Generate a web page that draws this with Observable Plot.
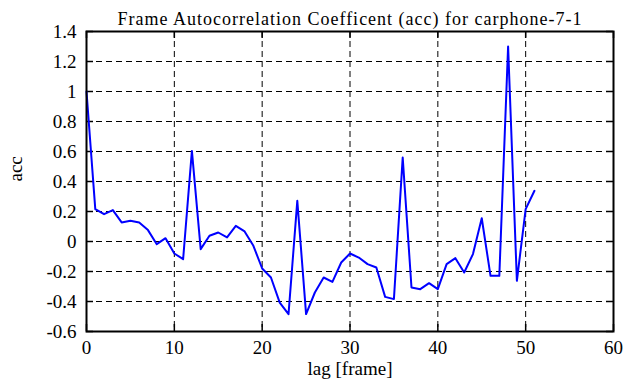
<!DOCTYPE html>
<html><head><meta charset="utf-8">
<script src="https://cdn.jsdelivr.net/npm/d3@7"></script>
<script src="https://cdn.jsdelivr.net/npm/@observablehq/plot@0.6"></script>
<style>body{margin:0;background:#fff} svg{display:block}</style>
</head><body><div id="chart"></div>
<script>
const title = "Frame Autocorrelation Coefficent (acc) for carphone-7-1";
const xLabel = "lag [frame]";
const yLabel = "acc";
const lags = [0,1,2,3,4,5,6,7,8,9,10,11,12,13,14,15,16,17,18,19,20,21,22,23,24,25,26,27,28,29,30,31,32,33,34,35,36,37,38,39,40,41,42,43,44,45,46,47,48,49,50,51];
const acc = [1.0, 0.216, 0.182, 0.209, 0.127, 0.138, 0.127, 0.076, -0.018, 0.022,
  -0.08, -0.118, 0.604, -0.051, 0.038, 0.06, 0.027, 0.104, 0.067, -0.029,
  -0.18, -0.24, -0.407, -0.484, 0.271, -0.484, -0.34, -0.24, -0.269, -0.14,
  -0.08, -0.107, -0.151, -0.173, -0.369, -0.384, 0.56, -0.307, -0.318, -0.278,
  -0.318, -0.151, -0.111, -0.207, -0.084, 0.155, -0.229, -0.229, 1.3, -0.262,
  0.216, 0.338];
const xTicks = [0, 10, 20, 30, 40, 50, 60];
const yTicks = [-0.6, -0.4, -0.2, 0, 0.2, 0.4, 0.6, 0.8, 1, 1.2, 1.4];

const data = lags.map((lag, i) => ({lag, acc: acc[i]}));
const W = 635, H = 387, mL = 86, mR = 22, mT = 31, mB = 56;
const iW = W - mL - mR, iH = H - mT - mB;
const tickLen = 7;
const font = "'Liberation Serif', 'Times New Roman', serif";
const fmt = d => String(+(+d).toFixed(1));

const chart = Plot.plot({
  width: W, height: H,
  marginLeft: mL, marginRight: mR, marginTop: mT, marginBottom: mB,
  style: {fontFamily: font, fontSize: "19px", color: "#000", background: "#fff"},
  x: {domain: [0, 60]},
  y: {domain: [-0.6, 1.4]},
  marks: [
    Plot.gridX(xTicks.slice(1, -1), {stroke: "#000", strokeOpacity: 1, strokeWidth: 1, strokeDasharray: "6,4"}),
    Plot.gridY(yTicks.slice(1, -1), {stroke: "#000", strokeOpacity: 1, strokeWidth: 1, strokeDasharray: "6,4"}),
    Plot.tickX(xTicks, {x: d => d, stroke: "#000", strokeWidth: 1.5, insetTop: iH - tickLen}),
    Plot.tickX(xTicks, {x: d => d, stroke: "#000", strokeWidth: 1.5, insetBottom: iH - tickLen}),
    Plot.tickY(yTicks, {y: d => d, stroke: "#000", strokeWidth: 1.5, insetRight: iW - tickLen}),
    Plot.tickY(yTicks, {y: d => d, stroke: "#000", strokeWidth: 1.5, insetLeft: iW - tickLen}),
    Plot.line(data, {x: "lag", y: "acc", stroke: "#0000ff", strokeWidth: 2}),
    Plot.frame({stroke: "#000", strokeWidth: 2}),
    Plot.axisX(xTicks, {tickSize: 0, tickPadding: 9, label: null, tickFormat: fmt, fontSize: 19}),
    Plot.axisY(yTicks, {tickSize: 0, tickPadding: 10, label: null, tickFormat: fmt, fontSize: 19}),
    Plot.text([title], {text: d => d, frameAnchor: "top", dy: -19, fontSize: 18}),
    Plot.text([xLabel], {text: d => d, frameAnchor: "bottom", dy: 43, fontSize: 19}),
    Plot.text([yLabel], {text: d => d, frameAnchor: "left", dx: -71, rotate: -90, fontSize: 19})
  ]
});
d3.select(chart).selectAll("text").filter(function () { return this.textContent === title; })
  .style("letter-spacing", "1px");
document.getElementById("chart").appendChild(chart);
</script>
</body></html>
